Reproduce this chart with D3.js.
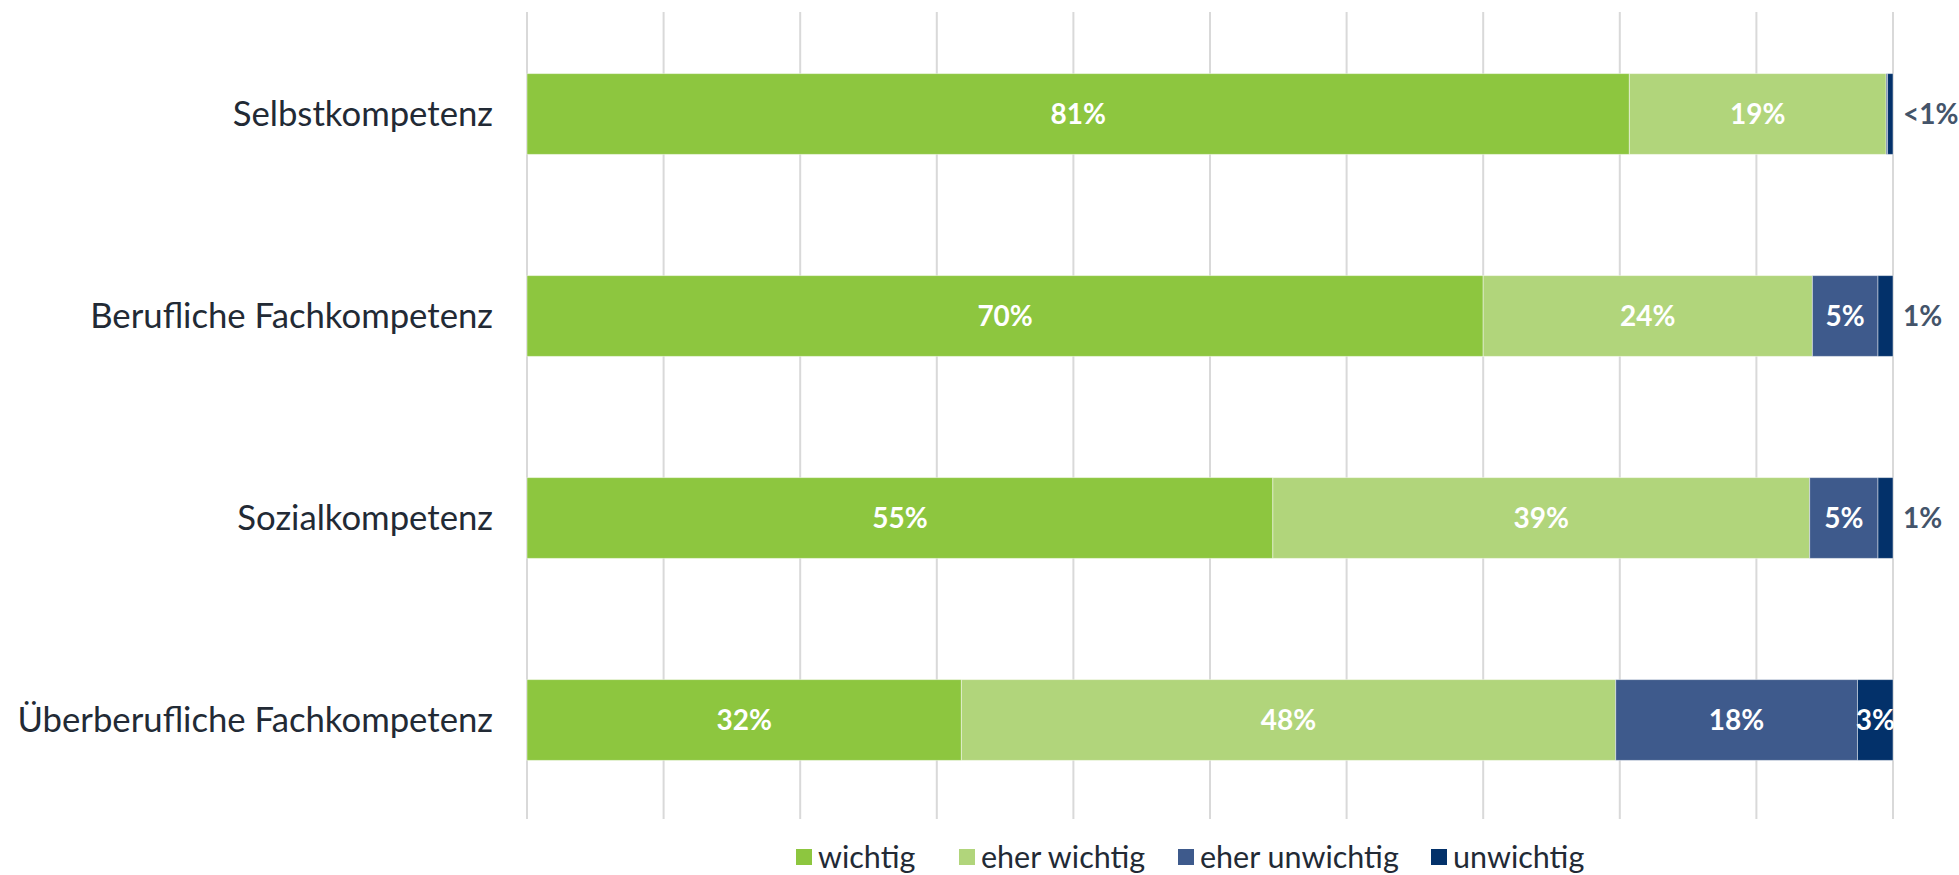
<!DOCTYPE html>
<html>
<head>
<meta charset="utf-8">
<script src="https://cdn.jsdelivr.net/npm/d3@7"></script>
<style>
  html, body { margin: 0; padding: 0; background: #ffffff; }
  svg { display: block; }
</style>
</head>
<body>
<svg id="chart" width="1959" height="875"></svg>
<script>
const categories = ["Selbstkompetenz", "Berufliche Fachkompetenz", "Sozialkompetenz", "Überberufliche Fachkompetenz"];
const seriesNames = ["wichtig", "eher wichtig", "eher unwichtig", "unwichtig"];
const wichtig       = [80.7, 70.0, 54.6, 31.8];
const eherWichtig   = [18.8, 24.1, 39.3, 47.9];
const eherUnwichtig = [0.1, 4.8, 5.0, 17.7];
const unwichtig     = [0.4, 1.1, 1.1, 2.6];
const labelsWichtig       = ["81%", "70%", "55%", "32%"];
const labelsEherWichtig   = ["19%", "24%", "39%", "48%"];
const labelsEherUnwichtig = ["", "5%", "5%", "18%"];
const labelsUnwichtig     = ["<1%", "1%", "1%", "3%"];
const xTicks = [0, 10, 20, 30, 40, 50, 60, 70, 80, 90, 100];
const colors = ["#8dc63f", "#b1d57b", "#3e5a8c", "#03316a"];

const seriesValues = [wichtig, eherWichtig, eherUnwichtig, unwichtig];
const seriesLabels = [labelsWichtig, labelsEherWichtig, labelsEherUnwichtig, labelsUnwichtig];

const rows = categories.map((c, i) => {
  const r = { category: c };
  seriesNames.forEach((s, j) => { r[s] = seriesValues[j][i]; });
  return r;
});
const stacked = d3.stack().keys(seriesNames)(rows);

const svg = d3.select("#chart");
const font = "Lato, 'Open Sans', sans-serif";

const x = d3.scaleLinear().domain([0, 100]).range([527, 1893]);
const y = d3.scaleBand().domain(categories).range([13, 821]).paddingInner(0.6).paddingOuter(0.3);

// gridlines
svg.append("g").selectAll("line").data(xTicks).join("line")
  .attr("x1", d => x(d)).attr("x2", d => x(d))
  .attr("y1", 12).attr("y2", 819)
  .attr("stroke", "#d9d9d9").attr("stroke-width", 2);

// bars
const layers = svg.append("g").selectAll("g").data(stacked).join("g")
  .attr("fill", (d, i) => colors[i]);
layers.selectAll("rect").data(d => d.map(v => ({ v, cat: v.data.category }))).join("rect")
  .attr("x", d => x(d.v[0]))
  .attr("width", d => Math.max(0, x(d.v[1]) - x(d.v[0])))
  .attr("y", d => y(d.cat))
  .attr("height", y.bandwidth())
  .attr("stroke", "#ffffff").attr("stroke-opacity", 0.45).attr("stroke-width", 1);

// data labels
stacked.forEach((layer, si) => {
  layer.forEach((seg, ci) => {
    const txt = seriesLabels[si][ci];
    if (!txt) return;
    const w = x(seg[1]) - x(seg[0]);
    const cy = y(categories[ci]) + y.bandwidth() / 2;
    const outside = w < 25;
    svg.append("text")
      .attr("x", outside ? x(100) + 10 : (x(seg[0]) + x(seg[1])) / 2)
      .attr("y", cy)
      .attr("dy", "0.35em")
      .attr("text-anchor", outside ? "start" : "middle")
      .attr("fill", outside ? "#44546a" : "#ffffff")
      .attr("font-family", font)
      .attr("font-weight", "bold")
      .attr("font-size", 28)
      .text(txt);
  });
});

// category labels
svg.append("g").selectAll("text").data(categories).join("text")
  .attr("x", 493)
  .attr("y", d => y(d) + y.bandwidth() / 2)
  .attr("dy", "0.35em")
  .attr("text-anchor", "end")
  .attr("fill", "#222a35")
  .attr("font-family", font)
  .attr("font-size", 34.7)
  .text(d => d);

// legend
const legendX = [796, 959, 1178, 1431];
const lg = svg.append("g").selectAll("g").data(seriesNames).join("g")
  .attr("transform", (d, i) => `translate(${legendX[i]},849)`);
lg.append("rect").attr("width", 16).attr("height", 16).attr("fill", (d, i) => colors[i]);
lg.append("text")
  .attr("x", 22).attr("y", 8).attr("dy", "0.35em")
  .attr("fill", "#222a35")
  .attr("font-family", font)
  .attr("font-size", 30.5)
  .text(d => d);
</script>
</body>
</html>
